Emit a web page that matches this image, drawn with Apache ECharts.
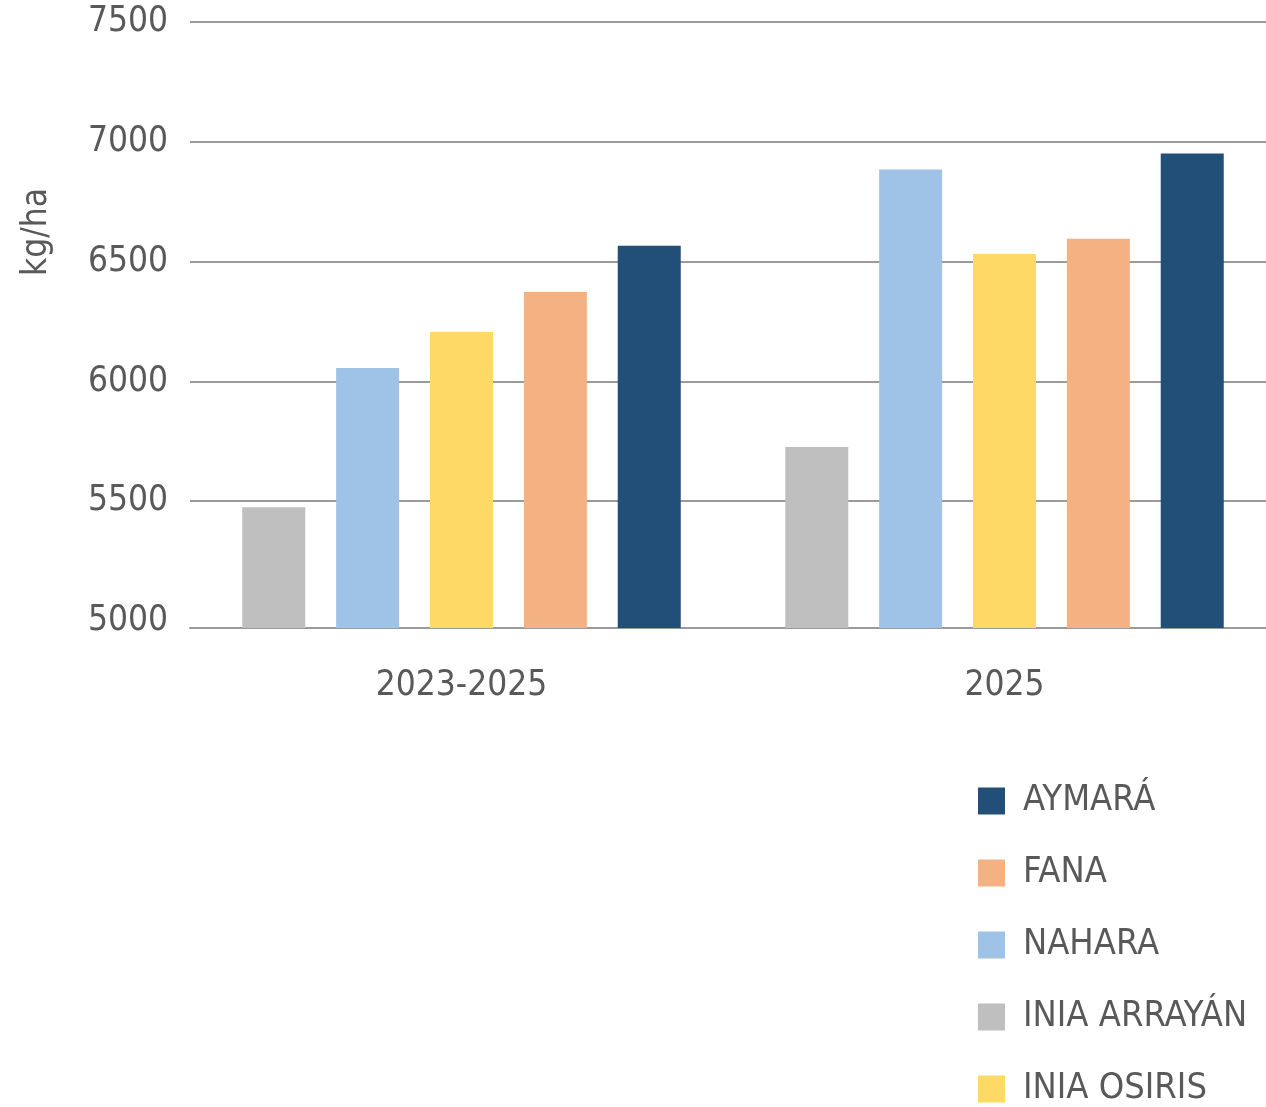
<!DOCTYPE html>
<html>
<head>
<meta charset="utf-8">
<script src="https://cdn.jsdelivr.net/npm/echarts@6/dist/echarts.min.js"></script>
<style>
html, body { margin: 0; padding: 0; background: #fff; }
#myChart { width: 1266px; height: 1107px; }
</style>
</head>
<body>
<div id="myChart"></div>
<script>
// datos
let categories = ['2023-2025', '2025']
let arrayan = [5475, 5726]
let nahara = [6056, 6884]
let osiris = [6206, 6532]
let fana = [6373, 6595]
let aymara = [6566, 6951]
let yTicks = [5000, 5500, 6000, 6500, 7000, 7500]
let legendOrder = ['AYMARÁ', 'FANA', 'NAHARA', 'INIA ARRAYÁN', 'INIA OSIRIS']

let font = '"DejaVu Sans Condensed", "Liberation Sans Narrow", sans-serif'
let textColor = '#595959'

let myChart = echarts.init(document.getElementById('myChart'))

function bar(name, data, color) {
    return {
        name: name,
        type: 'bar',
        data: data,
        barWidth: 63,
        barGap: '49%',
        itemStyle: { color: color }
    }
}

let option = {
    animation: false,
    grid: { left: 190, right: -10, top: 22, bottom: 479, outerBoundsMode: 'none' },
    xAxis: {
        type: 'category',
        data: categories,
        axisTick: { show: false },
        axisLine: { lineStyle: { color: '#9a9a9a', width: 2 } },
        axisLabel: { color: textColor, fontSize: 35, fontFamily: font, margin: 40 }
    },
    yAxis: {
        type: 'value',
        min: 4971,
        max: 7500,
        axisLine: { show: false },
        axisTick: { show: false, customValues: yTicks.slice(1) },
        axisLabel: {
            color: textColor, fontSize: 35, fontFamily: font, margin: 22,
            customValues: yTicks,
            formatter: (v) => String(v)
        },
        splitLine: { lineStyle: { color: '#9a9a9a', width: 2 } }
    },
    legend: {
        orient: 'vertical',
        left: 978,
        top: 781,
        height: 360,
        padding: 0,
        icon: 'rect',
        itemWidth: 27,
        itemHeight: 27,
        itemGap: 32,
        data: legendOrder,
        textStyle: { color: textColor, fontSize: 36, fontFamily: font, lineHeight: 40, padding: [0, 0, 0, 13] }
    },
    graphic: [{
        type: 'text',
        x: 37,
        y: 232,
        rotation: Math.PI / 2,
        style: {
            text: 'kg/ha',
            fill: textColor,
            font: '35px ' + font,
            textAlign: 'center',
            textVerticalAlign: 'middle'
        }
    }],
    series: [
        bar('INIA ARRAYÁN', arrayan, '#BFBFBF'),
        bar('NAHARA', nahara, '#9FC3E7'),
        bar('INIA OSIRIS', osiris, '#FFD966'),
        bar('FANA', fana, '#F4B283'),
        bar('AYMARÁ', aymara, '#214F78')
    ]
}
myChart.setOption(option)
</script>
</body>
</html>
